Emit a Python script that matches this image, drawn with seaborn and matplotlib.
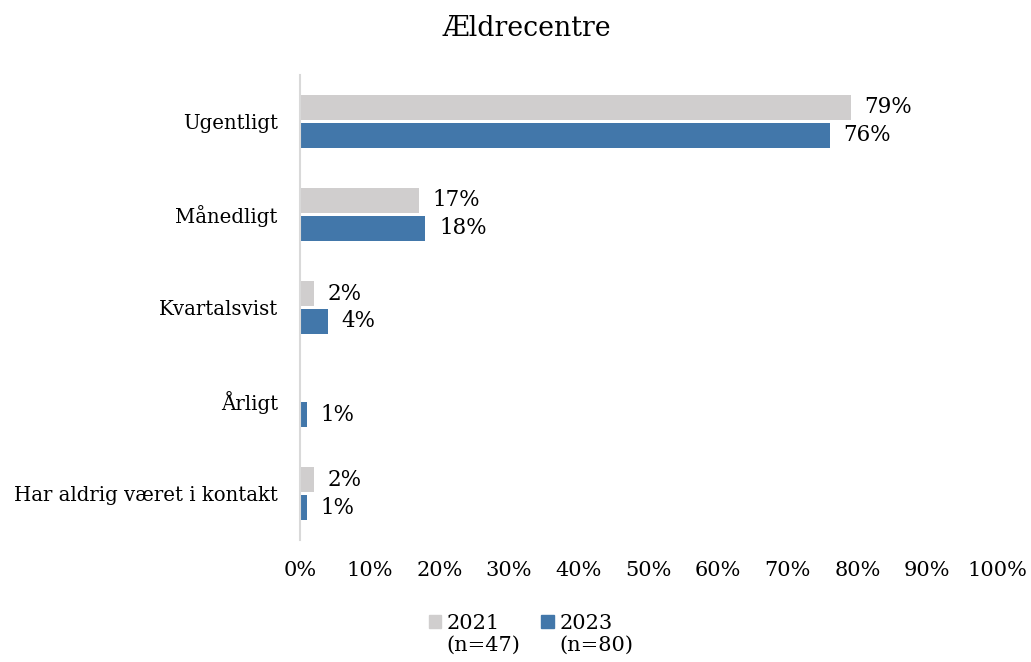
import numpy as np
import pandas as pd
import matplotlib
matplotlib.use('Agg')
import matplotlib.pyplot as plt
import seaborn as sns

# ── Data ───────────────────────────────────────────────────────────
categories = ['Ugentligt', 'Månedligt', 'Kvartalsvist', 'Årligt',
              'Har aldrig været i kontakt']
values_2021 = [79, 17, 2, np.nan, 2]
values_2023 = [76, 18, 4, 1, 1]
series = ['2021', '2023']
series_n = ['(n=47)', '(n=80)']
x_ticks = list(range(0, 101, 10))

GRAY = '#D0CECE'
BLUE = '#4277AA'
AXIS = '#D9D9D9'
TEXT = '#000000'

sns.set_theme(style='white')
plt.rcParams['font.family'] = ['DejaVu Serif']
plt.rcParams['text.color'] = TEXT

df = pd.DataFrame({
    'kategori': categories * 2,
    'aar': [series[0]] * len(categories) + [series[1]] * len(categories),
    'pct': values_2021 + values_2023,
})

fig = plt.figure(figsize=(10.31, 6.62), dpi=100)
ax = fig.add_axes([0.291, 0.184, 0.676, 0.703])

sns.barplot(data=df, y='kategori', x='pct', hue='aar', order=categories,
            hue_order=series, palette=[GRAY, BLUE], orient='h',
            width=0.6, gap=0.1, saturation=1, linewidth=0,
            ax=ax, legend=False)

# value labels
for i, vals in enumerate([values_2021, values_2023]):
    off = (-1 if i == 0 else 1) * 0.6 / 4
    for j, v in enumerate(vals):
        if np.isnan(v):
            continue
        ax.annotate(f'{v:.0f}%', xy=(v, j + off), xytext=(10, 0),
                    textcoords='offset points', ha='left', va='center',
                    fontsize=15.5, color=TEXT)

ax.set_xlim(0, 100)
ax.set_ylim(len(categories) - 0.5, -0.5)
ax.set_xticks(x_ticks)
ax.set_xticklabels([f'{t}%' for t in x_ticks])
ax.set_xlabel('')
ax.set_ylabel('')
ax.tick_params(axis='x', length=0, pad=15, labelsize=15, colors=TEXT)
ax.tick_params(axis='y', length=0, pad=16, labelsize=14.2, colors=TEXT)
for s in ['top', 'right', 'bottom']:
    ax.spines[s].set_visible(False)
ax.spines['left'].set_color(AXIS)
ax.spines['left'].set_linewidth(1.5)
ax.grid(False)

fig.suptitle('Ældrecentre', x=0.511, y=0.978, fontsize=19.3, color=TEXT)

# legend
handles = [plt.Rectangle((0, 0), 1, 1, color=c) for c in [GRAY, BLUE]]
leg = fig.legend(handles, series, loc='center', bbox_to_anchor=(0.505, 0.058),
                 ncol=2, frameon=False, fontsize=15, handlelength=0.6,
                 handleheight=0.6, handletextpad=0.25, columnspacing=2.0,
                 labelcolor=TEXT)
fig.canvas.draw()
for t, n in zip(leg.get_texts(), series_n):
    bb = t.get_window_extent()
    fx, fy = fig.transFigure.inverted().transform((bb.x0, bb.y0))
    fig.text(fx, fy - 0.004, n, ha='left', va='top', fontsize=15, color=TEXT)

plt.savefig('out.png', dpi=100, facecolor='white')
